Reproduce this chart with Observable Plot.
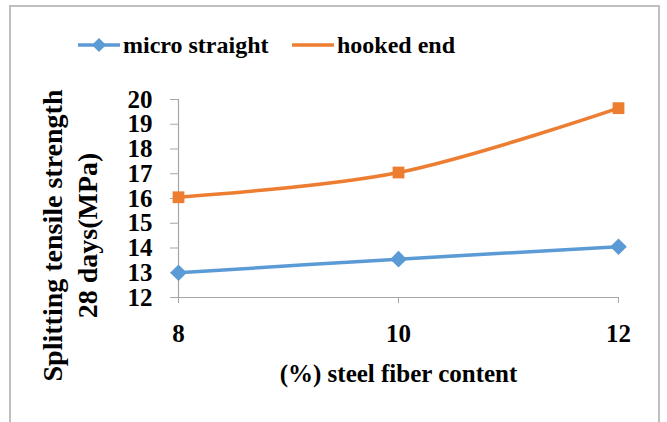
<!DOCTYPE html>
<html>
<head>
<meta charset="utf-8">
<script src="https://cdn.jsdelivr.net/npm/d3@7"></script>
<script src="https://cdn.jsdelivr.net/npm/@observablehq/plot@0.6"></script>
<style>
  html, body { margin: 0; padding: 0; background: #fff; }
  body { width: 667px; height: 422px; position: relative; overflow: hidden; font-family: "Liberation Serif", "Times New Roman", "Liberation Sans", sans-serif; font-weight: bold; }
  #frame { position: absolute; left: 9px; top: 5px; width: 651px; height: 440px; border: 2px solid #bfbfbf; box-sizing: border-box; }
  #legend { position: absolute; left: 0; top: 28px; width: 667px; height: 34px; }
  .item { position: absolute; top: 0; display: flex; align-items: center; height: 34px; font-size: 24px; color: #000; white-space: nowrap; }
  .item svg { display: block; margin-right: 3px; }
  #chart { position: absolute; left: 0; top: 70px; }
</style>
</head>
<body>
<div id="frame"></div>
<div id="legend"></div>
<div id="chart"></div>
<script>
// Steel fiber content (%) on the x axis
const fiberContent = [8, 10, 12];
// 28-day splitting tensile strength (MPa) per fiber type
const microStraight = [13.0, 13.55, 14.05];
const hookedEnd = [16.05, 17.05, 19.65];
const seriesNames = ["micro straight", "hooked end"];
const yTicks = [12, 13, 14, 15, 16, 17, 18, 19, 20];

const blue = "#5B9BD5";
const orange = "#ED7D31";
const axisGray = "#a6a6a6";

const micro = fiberContent.map((x, i) => ({x, y: microStraight[i]}));
const hooked = fiberContent.map((x, i) => ({x, y: hookedEnd[i]}));

const font = "'Liberation Serif', 'Times New Roman', 'Liberation Sans', sans-serif";

const chart = Plot.plot({
  width: 667,
  height: 352,
  marginLeft: 178,
  marginRight: 49,
  marginTop: 29,
  marginBottom: 125,
  style: {fontFamily: font, fontWeight: "bold", color: "#000", background: "transparent", overflow: "visible"},
  x: {domain: [8, 12]},
  y: {domain: [12, 20]},
  marks: [
    Plot.axisY({ticks: yTicks, tickSize: 8, tickPadding: 18, stroke: axisGray, fontSize: 25, fill: "#000", label: null, tickFormat: d => String(d)}),
    Plot.axisX({ticks: fiberContent, tickSize: 6, tickPadding: 21, stroke: axisGray, fontSize: 25, fill: "#000", label: null, tickFormat: d => String(d)}),
    Plot.ruleX([8], {stroke: axisGray, strokeWidth: 1.2}),
    Plot.ruleY([12], {stroke: axisGray, strokeWidth: 1.2}),
    Plot.line(micro, {x: "x", y: "y", stroke: blue, strokeWidth: 3.5, curve: "catmull-rom"}),
    Plot.line(hooked, {x: "x", y: "y", stroke: orange, strokeWidth: 3.5, curve: "catmull-rom"}),
    Plot.dot(micro, {x: "x", y: "y", symbol: "diamond2", r: 7.5, fill: blue, stroke: blue, strokeWidth: 0}),
    Plot.dot(hooked, {x: "x", y: "y", symbol: "square2", r: 7.5, fill: orange, stroke: orange, strokeWidth: 0}),
    Plot.text(["(%) steel fiber content"], {frameAnchor: "bottom", dy: 76, fontSize: 25, fontWeight: "bold", fill: "#000", lineAnchor: "middle", textAnchor: "middle"}),
    Plot.text(["Splitting tensile strength"], {frameAnchor: "left", dx: -125, dy: 37, rotate: -90, fontSize: 28, fontWeight: "bold", fill: "#000", lineAnchor: "middle", textAnchor: "middle"}),
    Plot.text(["28 days(MPa)"], {frameAnchor: "left", dx: -90, dy: 37, rotate: -90, fontSize: 28, fontWeight: "bold", fill: "#000", lineAnchor: "middle", textAnchor: "middle"})
  ]
});
document.getElementById("chart").append(chart);

// Legend: line swatch (with marker for the first series) followed by the name
const legend = document.getElementById("legend");
const swatches = [
  {name: seriesNames[0], color: blue, marker: "diamond", left: 78},
  {name: seriesNames[1], color: orange, marker: null, left: 292}
];
for (const s of swatches) {
  const item = document.createElement("div");
  item.className = "item";
  item.style.left = s.left + "px";
  const w = 42;
  let svg = `<svg width="${w}" height="20" viewBox="0 0 ${w} 20"><line x1="0" y1="10" x2="${w}" y2="10" stroke="${s.color}" stroke-width="3.5"/>`;
  if (s.marker === "diamond") svg += `<path d="M${w/2},3 L${w/2+7},10 L${w/2},17 L${w/2-7},10 Z" fill="${s.color}"/>`;
  svg += `</svg>`;
  item.innerHTML = svg + `<span>${s.name}</span>`;
  legend.append(item);
}
</script>
</body>
</html>
